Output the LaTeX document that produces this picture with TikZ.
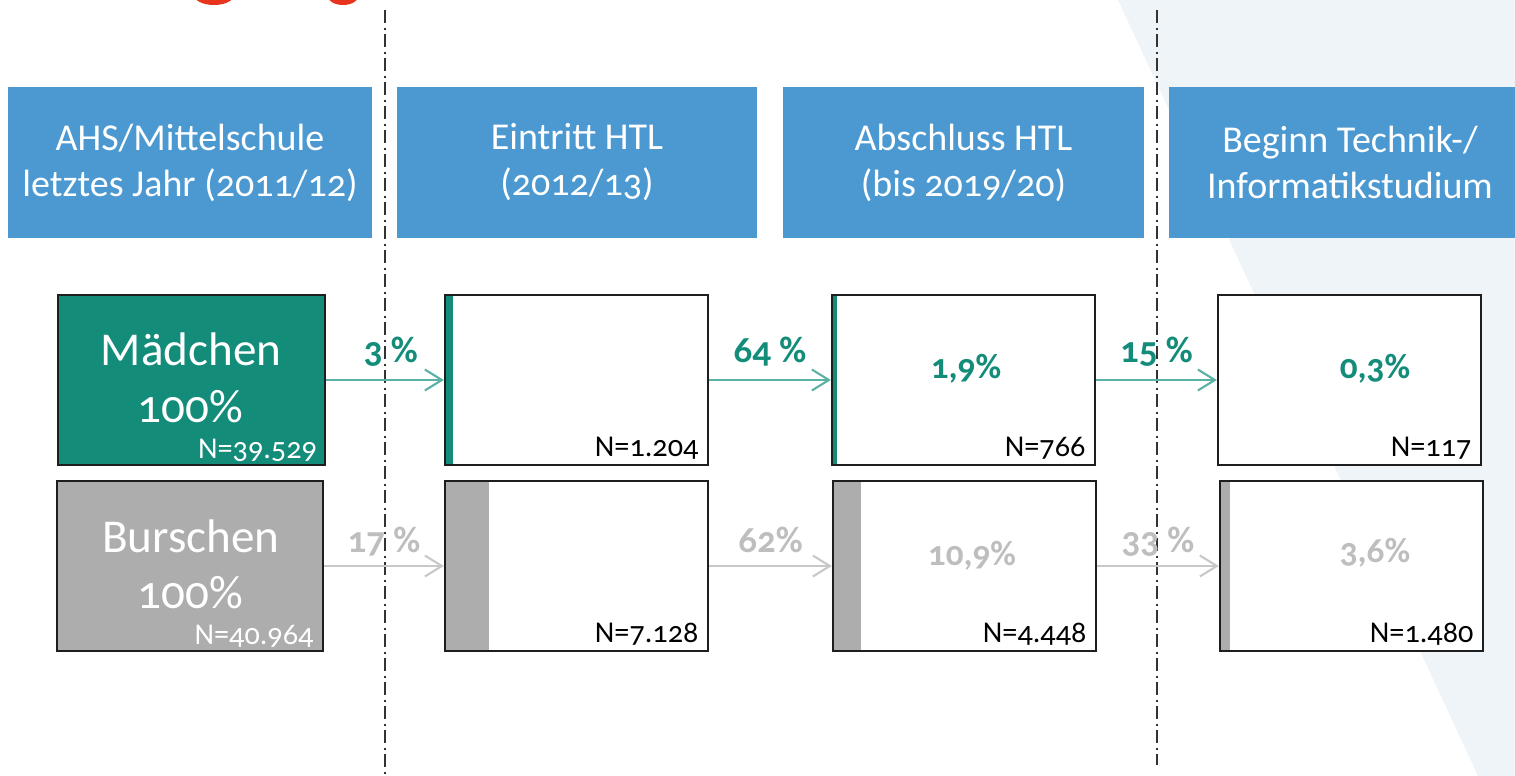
\documentclass[tikz,border=0pt]{standalone}
\usepackage{fontspec}
\setmainfont{Carlito}[Numbers=OldStyle]
\usetikzlibrary{positioning, arrows.meta, calc}

\definecolor{headblue}{RGB}{75,153,208}
\definecolor{girlteal}{RGB}{19,140,122}
\definecolor{tealarrow}{RGB}{90,178,164}
\definecolor{boygray}{RGB}{173,173,173}
\definecolor{graytext}{RGB}{190,190,190}
\definecolor{grayarrow}{RGB}{200,200,200}
\definecolor{bgpale}{RGB}{238,244,248}
\definecolor{boxline}{RGB}{30,30,30}
\definecolor{titlered}{RGB}{232,52,30}

\begin{document}
\begin{tikzpicture}[
  x=0.01cm, y=-0.01cm,
  %% header bars
  head/.style={
    fill=headblue, text=white, inner sep=0pt, minimum height=1.51cm,
    align=center, font=\fontsize{10.8}{13.1}\selectfont,
    execute at begin node={\rule{0pt}{10.5pt}}
  },
  %% boxes
  group/.style={
    draw=boxline, line width=0.6pt, inner sep=0pt,
    minimum width=2.66cm, minimum height=1.70cm
  },
  stage/.style={
    draw=boxline, fill=white, line width=0.6pt, inner sep=0pt,
    minimum width=2.63cm, minimum height=1.70cm
  },
  share/.style 2 args={
    path picture={\fill[#1] (path picture bounding box.north west)
      rectangle ([xshift=#2]path picture bounding box.south west);}
  },
  %% texts
  bigtxt/.style={text=white, inner sep=0pt, anchor=base,
    font=\fontsize{13.4}{16}\selectfont},
  ntxt/.style={inner sep=0pt, anchor=base east,
    font=\fontsize{8.6}{10}\selectfont},
  rate/.style={inner sep=0pt, anchor=base,
    font=\fontsize{10.5}{12}\selectfont\bfseries},
  value/.style={inner sep=0pt, anchor=base,
    font=\fontsize{10}{12}\selectfont\bfseries},
  %% connectors
  flowgirl/.style={draw=tealarrow, line width=0.6pt,
    -{Straight Barb[length=0.17cm, width=0.21cm]}},
  flowboy/.style={draw=grayarrow, line width=0.6pt,
    -{Straight Barb[length=0.17cm, width=0.21cm]}},
  divider/.style={draw=black!80, line width=0.55pt,
    dash pattern=on 0.13cm off 0.045cm on 0.02cm off 0.045cm},
]

\useasboundingbox (0,0) rectangle (1515,776);

%% ── BACKGROUND ────────────────────────────────────────────────────────────
\fill[bgpale] (1118,0) -- (1478,776) -- (1515,776) -- (1515,0) -- cycle;
\fill[titlered] (214,-5) ellipse [x radius=0.2cm, y radius=0.1cm];
\fill[titlered] (343,-5) ellipse [x radius=0.16cm, y radius=0.1cm];

%% ── DIVIDERS ──────────────────────────────────────────────────────────────
\draw[divider] (385,10) -- (385,776);
\draw[divider] (1157,10) -- (1157,765);

%% ── HEADERS ───────────────────────────────────────────────────────────────
\node[head, minimum width=3.63cm] (h1) at (190,162.5) {AHS/Mittelschule\\letztes Jahr (2011/12)};
\node[head, minimum width=3.60cm] (h2) at (577,162.5) {Eintritt HTL\\(2012/13)};
\node[head, minimum width=3.61cm] (h3) at (963.5,162.5) {Abschluss HTL\\(bis 2019/20)};
\node[head, minimum width=3.62cm] (h4) at (1350,162.5) {Beginn Technik-/\\Informatikstudium};

%% ── GIRLS ─────────────────────────────────────────────────────────────────
\node[group, fill=girlteal] (girls) at (191.5,380) {};
\node[bigtxt] (girlsname) at (191,365) {Mädchen};
\node[bigtxt] (girlsall) at (190,422) {100\%};
\node[ntxt, text=white] (girlsn) at ([shift={(-8,-8)}]girls.south east) {N=39.529};

\node[stage, share={girlteal}{0.08cm}] (girlsin) at (576.5,380) {};
\node[ntxt] (girlsinn) at ([shift={(-10,-10)}]girlsin.south east) {N=1.204};

\node[stage, share={girlteal}{0.05cm}] (girlsgrad) at (963.5,380) {};
\node[value, text=girlteal] (girlsgradv) at (966,378) {1,9\%};
\node[ntxt] (girlsgradn) at ([shift={(-10,-10)}]girlsgrad.south east) {N=766};

\node[stage] (girlsuni) at (1349.5,380) {};
\node[value, text=girlteal] (girlsuniv) at (1375,378) {0,3\%};
\node[ntxt] (girlsunin) at ([shift={(-10,-10)}]girlsuni.south east) {N=117};

%% ── BOYS ──────────────────────────────────────────────────────────────────
\node[group, fill=boygray] (boys) at (190,566) {};
\node[bigtxt] (boysname) at (191,552) {Burschen};
\node[bigtxt] (boysall) at (190,608) {100\%};
\node[ntxt, text=white] (boysn) at ([shift={(-10,-8)}]boys.south east) {N=40.964};

\node[stage, share={boygray}{0.44cm}] (boysin) at (576.5,566) {};
\node[ntxt] (boysinn) at ([shift={(-10,-10)}]boysin.south east) {N=7.128};

\node[stage, share={boygray}{0.28cm}] (boysgrad) at (964.5,566) {};
\node[value, text=graytext] (boysgradv) at (972,565) {10,9\%};
\node[ntxt] (boysgradn) at ([shift={(-10,-10)}]boysgrad.south east) {N=4.448};

\node[stage, share={boygray}{0.10cm}] (boysuni) at (1351.5,566) {};
\node[value, text=graytext] (boysuniv) at (1375,562) {3,6\%};
\node[ntxt] (boysunin) at ([shift={(-10,-10)}]boysuni.south east) {N=1.480};

%% ── FLOWS ─────────────────────────────────────────────────────────────────
\draw[flowgirl] (girls.east) -- (girlsin.west)
  node[rate, text=girlteal, midway, xshift=0.06cm, yshift=0.17cm] {3 \%};
\draw[flowgirl] (girlsin.east) -- (girlsgrad.west)
  node[rate, text=girlteal, midway, yshift=0.17cm] {64 \%};
\draw[flowgirl] (girlsgrad.east) -- (girlsuni.west)
  node[rate, text=girlteal, midway, yshift=0.17cm] {15 \%};

\draw[flowboy] (boys.east) -- (boysin.west)
  node[rate, text=graytext, midway, yshift=0.13cm] {17 \%};
\draw[flowboy] (boysin.east) -- (boysgrad.west)
  node[rate, text=graytext, midway, yshift=0.13cm] {62\%};
\draw[flowboy] (boysgrad.east) -- (boysuni.west)
  node[rate, text=graytext, midway, yshift=0.13cm] {33 \%};

\end{tikzpicture}
\end{document}
